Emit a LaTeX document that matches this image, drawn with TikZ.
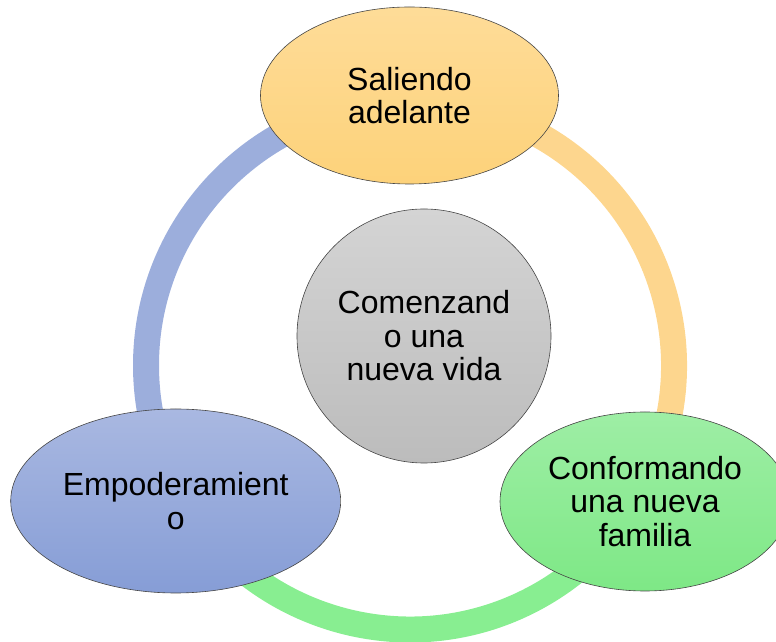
\documentclass[tikz,border=0pt]{standalone}
\usepackage{fontspec}
\setmainfont{Liberation Sans}
\usepackage{tikz}
\usetikzlibrary{shapes.geometric}
\usepackage{xcolor}

\definecolor{ringblue}{HTML}{9CAEDC}
\definecolor{ringorange}{HTML}{FDD68E}
\definecolor{ringgreen}{HTML}{88EE91}

\tikzset{
  stage/.style={ellipse, draw=gray!55!black, line width=0.6pt, inner sep=0pt,
    align=center, font=\fontsize{32}{33.5}\selectfont},
  ring/.style={line width=26pt}
}

\begin{document}
\begin{tikzpicture}[x=1pt, y=1pt]

  \clip (0,0) rectangle (776,642);

  % ── ring behind the stages ───────────────────────────────────────────────
  \def\rx{410}\def\ry{276.5}\def\rr{264}
  \coordinate (ringc) at (\rx,\ry);

  \foreach \a/\b/\c in {90/210/ringblue, -30/90/ringorange, 210/330/ringgreen}{
    \draw[ring, \c] ([shift={(\a:\rr)}]ringc) arc[start angle=\a, end angle=\b, radius=\rr];
  }

  % ── stages ───────────────────────────────────────────────────────────────
  \node[stage, minimum width=298pt, minimum height=177pt,
        top color={rgb,255:red,254;green,220;blue,152}, bottom color={rgb,255:red,253;green,210;blue,122}]
    (saliendo) at (409.5,546.5) {Saliendo\\adelante};

  \node[stage, circle, minimum size=254pt,
        top color={rgb,255:red,212;green,212;blue,212}, bottom color={rgb,255:red,188;green,188;blue,188}]
    (comenzando) at (424,306) {Comenzand\\o una\\nueva vida};

  \node[stage, minimum width=330pt, minimum height=184pt,
        top color={rgb,255:red,169;green,184;blue,225}, bottom color={rgb,255:red,134;green,157;blue,214}]
    (empoderamiento) at (175.7,141) {Empoderamient\\o};

  \node[stage, minimum width=290pt, minimum height=179pt,
        top color={rgb,255:red,158;green,238;blue,165}, bottom color={rgb,255:red,126;green,232;blue,134}]
    (conformando) at (645,140.5) {Conformando\\una nueva\\familia};

\end{tikzpicture}
\end{document}
